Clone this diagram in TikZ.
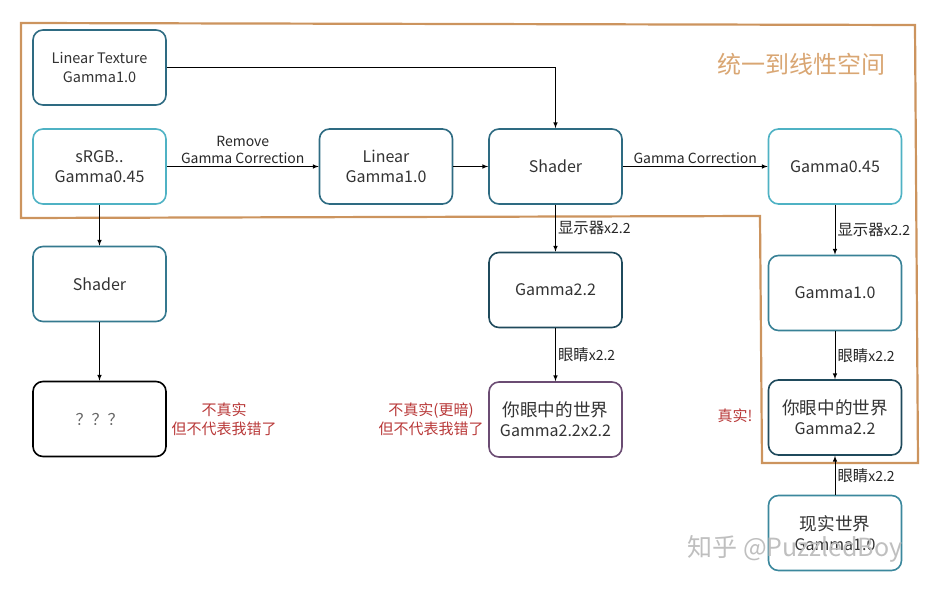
\documentclass[tikz,border=0pt]{standalone}
\usepackage{fontspec}
\setmainfont{Noto Sans CJK SC}
\newfontfamily\zhfont[Scale=1.1]{Noto Sans CJK SC}
\newcommand{\zh}[1]{{\zhfont #1}}
\usepackage{tikz}
\usetikzlibrary{arrows}
\definecolor{FrameTan}{rgb}{0.80,0.58,0.37}
\definecolor{TitleTan}{rgb}{0.85,0.65,0.45}
\definecolor{DarkTeal}{rgb}{0.18,0.42,0.51}
\definecolor{LightTeal}{rgb}{0.31,0.70,0.77}
\definecolor{DeepTeal}{rgb}{0.12,0.29,0.36}
\definecolor{DarkPurple}{rgb}{0.42,0.30,0.45}
\definecolor{NoteRed}{rgb}{0.72,0.22,0.22}

\begin{document}
\begin{tikzpicture}[x=1pt,y=-1pt,>=latex,
    box/.style={draw=#1,line width=1.6pt,rounded corners=10pt,minimum width=133pt,minimum height=75pt,align=center,font=\fontsize{16}{20}\selectfont,text=black!80},
    lbl/.style={font=\fontsize{14}{17}\selectfont,text=black!85,align=center,inner sep=2pt},
    note/.style={font=\fontsize{15}{19}\selectfont,text=NoteRed,align=center}]
      \useasboundingbox (0,0) rectangle (938,596);
      % linear space frame
      \draw[FrameTan,line width=2.2pt] (21,23)--(915,25)--(918,463)--(762,463)--(760,216)--(21,218)--cycle;
      \node[text=TitleTan,font=\fontsize{24}{26}\selectfont] (title) at (801,64) {统一到线性空间};
      % boxes
      \node[box=DarkTeal,font=\fontsize{14.5}{19}\selectfont] (tex) at (99.5,67.5) {Linear Texture\\Gamma1.0};
      \node[box=LightTeal] (srgb) at (99.5,166.5) {sRGB..\\Gamma0.45};
      \node[box=DarkTeal] (lin) at (386,166.5) {Linear\\Gamma1.0};
      \node[box=DarkTeal] (shd) at (555.5,166.5) {Shader};
      \node[box=LightTeal] (gin) at (835,166.5) {Gamma0.45};
      \node[box=DarkTeal!80!LightTeal] (shdl) at (99.5,284) {Shader};
      \node[box=black,text=black!60] (qqq) at (99.5,419) {？？？};
      \node[box=DeepTeal] (gout) at (555.5,290) {Gamma2.2};
      \node[box=DarkPurple] (eyea) at (555.5,419.5) {\zh{你眼中的世界}\\Gamma2.2x2.2};
      \node[box=DarkTeal!70!LightTeal] (glin) at (835,293) {Gamma1.0};
      \node[box=DeepTeal] (eyeb) at (835,417.5) {\zh{你眼中的世界}\\Gamma2.2};
      \node[box=DarkTeal!60!LightTeal] (real) at (835,533) {\zh{现实世界}\\Gamma1.0};
      % connectors
      \draw[->,line width=1pt] (tex.east) -| (shd.north);
      \draw[->,line width=1pt] (srgb.east)--(lin.west) node[midway,above,lbl] {Remove\\Gamma Correction};
      \draw[->,line width=1pt] (lin.east)--(shd.west);
      \draw[->,line width=1pt] (shd.east)--(gin.west) node[midway,above,lbl] {Gamma Correction};
      \draw[->,line width=1pt] (srgb.south)--(shdl.north);
      \draw[->,line width=1pt] (shdl.south)--(qqq.north);
      \draw[->,line width=1pt] (shd.south)--(gout.north) node[midway,right,lbl] {\zh{显示器}x2.2};
      \draw[->,line width=1pt] (gout.south)--(eyea.north) node[midway,right,lbl] {\zh{眼睛}x2.2};
      \draw[->,line width=1pt] (gin.south)--(glin.north) node[midway,right,lbl] {\zh{显示器}x2.2};
      \draw[->,line width=1pt] (glin.south)--(eyeb.north) node[midway,right,lbl] {\zh{眼睛}x2.2};
      \draw[->,line width=1pt] (real.north)--(eyeb.south) node[midway,right,lbl] {\zh{眼睛}x2.2};
      % notes
      \node[note] (n1) at (224,419) {不真实\\但不代表我错了};
      \node[note] (n2) at (431,419) {不真实(更暗)\\但不代表我错了};
      \node[note] (n3) at (735,416) {真实!};
      \node[text=black!25,font=\fontsize{25}{27}\selectfont] (mark) at (795,549) {知乎 @PuzzledBoy};
    \end{tikzpicture}
\end{document}
